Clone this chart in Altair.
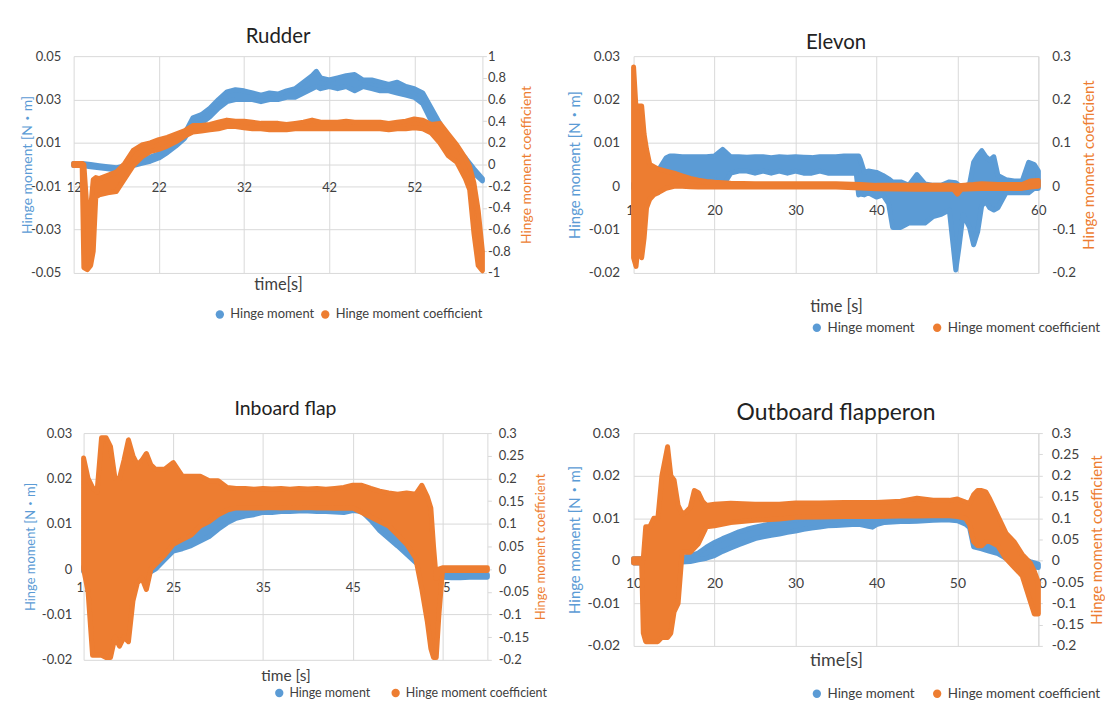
import altair as alt
import pandas as pd

BLUE = "#5B9BD5"
ORANGE = "#ED7D31"
GRID = "#D9D9D9"
LABEL = "#404040"
FONT = "Lato, 'Noto Sans CJK JP', sans-serif"
SERIES = ["Hinge moment", "Hinge moment coefficient"]

# ---------------- data: (time [s], band low, band high) ----------------
RUDDER_HM = [
    (12, -0.0005, 0.0005), (13, -0.0005, 0.0005), (14, -0.001, 0.0), (15, -0.0015, -0.0005),
    (16, -0.002, -0.001), (17, -0.0025, -0.0015), (18, -0.002, -0.0005), (19, -0.0005, 0.001),
    (20, 0.0005, 0.002), (21, 0.0015, 0.0035), (22, 0.003, 0.005), (23, 0.0055, 0.0075),
    (24, 0.0085, 0.0105), (25, 0.012, 0.014), (26, 0.018, 0.0215), (27, 0.019, 0.023),
    (28, 0.022, 0.026), (29, 0.026, 0.030), (30, 0.029, 0.0335), (31, 0.030, 0.0345),
    (32, 0.030, 0.034), (33, 0.030, 0.033), (34, 0.029, 0.032), (35, 0.030, 0.033),
    (36, 0.030, 0.0325), (37, 0.031, 0.034), (38, 0.031, 0.035), (39, 0.033, 0.038),
    (40, 0.035, 0.041), (40.5, 0.036, 0.043), (41, 0.035, 0.040), (42, 0.036, 0.039),
    (43, 0.035, 0.040), (44, 0.036, 0.041), (45, 0.034, 0.0415), (46, 0.036, 0.039),
    (47, 0.035, 0.039), (48, 0.034, 0.038), (49, 0.034, 0.037), (50, 0.033, 0.038),
    (51, 0.032, 0.036), (52, 0.031, 0.035), (53, 0.028, 0.033), (54, 0.020, 0.026),
    (55, 0.015, 0.019), (56, 0.009, 0.011), (57, 0.005, 0.007), (58, 0.001, 0.003),
    (59, -0.004, -0.002), (60, -0.0075, -0.0065),
]
RUDDER_CF = [
    (12, -0.01, 0.01), (13.0, -0.01, 0.01), (13.2, -0.95, 0.0), (13.6, -0.97, -0.45),
    (14.0, -0.93, -0.4), (14.3, -0.8, -0.14), (14.6, -0.3, -0.12), (15, -0.28, -0.13),
    (16, -0.26, -0.1), (17, -0.25, -0.07), (18, -0.13, 0.01), (19, -0.01, 0.13),
    (20, 0.07, 0.18), (21, 0.12, 0.2), (22, 0.14, 0.23), (23, 0.17, 0.25),
    (24, 0.21, 0.28), (25, 0.26, 0.31), (26, 0.30, 0.36), (27, 0.31, 0.36),
    (28, 0.32, 0.37), (29, 0.33, 0.39), (30, 0.35, 0.41), (31, 0.35, 0.40),
    (32, 0.34, 0.40), (33, 0.33, 0.39), (34, 0.33, 0.38), (35, 0.32, 0.38),
    (36, 0.32, 0.38), (37, 0.32, 0.37), (38, 0.33, 0.38), (39, 0.33, 0.39),
    (40, 0.33, 0.41), (41, 0.33, 0.39), (42, 0.33, 0.39), (43, 0.33, 0.39),
    (44, 0.33, 0.40), (45, 0.33, 0.39), (46, 0.33, 0.39), (47, 0.33, 0.39),
    (48, 0.33, 0.39), (49, 0.32, 0.38), (50, 0.33, 0.39), (51, 0.33, 0.40),
    (52, 0.34, 0.42), (53, 0.33, 0.41), (54, 0.29, 0.37), (55, 0.2, 0.38),
    (56, 0.08, 0.28), (57, 0.02, 0.18), (58, -0.13, 0.06), (58.5, -0.23, -0.02),
    (59, -0.63, -0.17), (59.5, -0.93, -0.42), (60, -0.98, -0.8),
]

ELEVON_HM = [
    (10, -0.0005, 0.0005), (11, -0.0005, 0.0005), (12, -0.0005, 0.0005), (12.5, -0.0003, 0.0008),
    (13, -0.0015, 0.0035), (14, 0.0005, 0.0065), (14.5, 0.0015, 0.007), (15, 0.002, 0.007),
    (16, 0.002, 0.0068), (17, 0.002, 0.0068), (18, 0.002, 0.0068), (19, 0.002, 0.0068),
    (20, 0.0015, 0.007), (21, 0.0, 0.0085), (22, 0.003, 0.0068), (23, 0.0035, 0.0068),
    (24, 0.0035, 0.0067), (25, 0.003, 0.0068), (26, 0.0035, 0.0068), (27, 0.003, 0.0066),
    (28, 0.0035, 0.0068), (29, 0.003, 0.0067), (30, 0.0035, 0.0068), (31, 0.003, 0.0067),
    (32, 0.003, 0.0066), (33, 0.0035, 0.0068), (34, 0.003, 0.0068), (35, 0.003, 0.0068),
    (36, 0.003, 0.007), (37, 0.003, 0.007), (37.5, 0.003, 0.007), (37.8, -0.002, 0.007),
    (38, -0.0018, 0.0062), (38.5, -0.002, 0.0032), (39, -0.0015, 0.0035), (40, -0.0025, 0.0032),
    (40.8, -0.002, 0.0025), (41.5, -0.004, 0.0017), (42, -0.0095, 0.001), (43, -0.0095, 0.001),
    (44, -0.0085, 0.0002), (45, -0.0085, 0.0027), (46, -0.0085, 0.0005), (47, -0.007, 0.0002),
    (48, -0.0065, 0.0002), (49, -0.0055, 0.001), (49.8, -0.0193, 0.0008), (50.2, -0.014, 0.0002),
    (50.7, -0.0065, -0.0002), (51.5, -0.0095, 0.0005), (52, -0.0135, 0.0055), (52.5, -0.0105, 0.007),
    (53, -0.0045, 0.0082), (53.5, -0.0035, 0.0068), (54, -0.005, 0.006), (54.5, -0.0055, 0.0068),
    (55, -0.005, 0.0025), (56, -0.0015, 0.0015), (57, -0.0015, 0.0012), (58, -0.0015, 0.0012),
    (58.8, -0.0015, 0.0055), (59.5, -0.0005, 0.005), (60, -0.0005, 0.0035),
]
ELEVON_CF = [
    (10.0, -0.165, 0.275), (10.3, -0.185, 0.18), (10.6, -0.13, 0.185), (11.0, -0.165, 0.185),
    (11.3, -0.12, 0.12), (11.6, -0.05, 0.085), (12, -0.03, 0.05), (12.5, -0.02, 0.045),
    (13, -0.015, 0.04), (14, -0.005, 0.035), (15, 0.0, 0.03), (16, 0.0, 0.024),
    (17, -0.001, 0.018), (18, -0.002, 0.014), (19, -0.002, 0.011), (20, -0.002, 0.009),
    (22, -0.002, 0.007), (25, -0.002, 0.006), (30, -0.002, 0.006), (35, -0.002, 0.006),
    (38, -0.004, 0.004), (40, -0.006, 0.002), (45, -0.007, 0.002), (49.5, -0.007, 0.002),
    (50, -0.018, 0.001), (50.5, -0.007, 0.002), (52, -0.006, 0.004), (53, -0.005, 0.006),
    (55, -0.005, 0.004), (58, -0.005, 0.004), (59, -0.002, 0.012), (60, 0.0, 0.013),
]

INBOARD_HM = [
    (15, -0.0005, 0.0005), (16, -0.0005, 0.0005), (17, -0.0005, 0.0005), (18, -0.0005, 0.0005),
    (19, -0.0005, 0.0005), (20, -0.0005, 0.0005), (21, -0.0008, 0.0005), (21.8, -0.0018, 0.0005),
    (22.3, -0.0008, 0.0008), (23, 0.0, 0.0025), (24, 0.002, 0.0055), (25, 0.004, 0.0088),
    (26, 0.0045, 0.0078), (27, 0.0052, 0.0088), (28, 0.0062, 0.0098), (29, 0.0072, 0.011),
    (30, 0.0088, 0.0115), (31, 0.0102, 0.012), (32, 0.0112, 0.0128), (33, 0.0117, 0.013),
    (34, 0.012, 0.0132), (35, 0.0125, 0.0134), (36, 0.0125, 0.0135), (37, 0.0127, 0.0135),
    (38, 0.0127, 0.0136), (39, 0.0128, 0.0137), (40, 0.0128, 0.0138), (41, 0.0127, 0.0136),
    (42, 0.0127, 0.0135), (43, 0.0126, 0.0134), (44, 0.0125, 0.0134), (45, 0.0129, 0.0137),
    (46, 0.0127, 0.0137), (47, 0.0108, 0.0122), (48, 0.0085, 0.0100), (49, 0.0068, 0.0084),
    (50, 0.0051, 0.0066), (51, 0.0033, 0.0048), (52, 0.0015, 0.0031), (53, -0.0002, 0.0012),
    (54, -0.0009, 0.0002), (55, -0.0018, -0.0012), (56, -0.0019, -0.0013), (57, -0.0019, -0.0013),
    (58, -0.0018, -0.0012), (59, -0.0018, -0.0012), (60, -0.0018, -0.0012),
]
INBOARD_CF = [
    (15.0, 0.0, 0.245), (15.5, -0.05, 0.2), (16, -0.19, 0.18), (16.5, -0.19, 0.17),
    (17, -0.19, 0.29), (17.5, -0.195, 0.29), (18, -0.195, 0.27), (18.5, -0.15, 0.2),
    (19, -0.17, 0.2), (19.5, -0.15, 0.24), (20, -0.16, 0.285), (20.5, -0.07, 0.25),
    (21, -0.03, 0.23), (21.5, -0.02, 0.24), (22, -0.045, 0.255), (22.5, 0.0, 0.23),
    (23, 0.01, 0.22), (24, 0.03, 0.22), (25, 0.055, 0.235), (26, 0.065, 0.205),
    (27, 0.075, 0.205), (28, 0.095, 0.205), (29, 0.105, 0.195), (30, 0.12, 0.195),
    (31, 0.13, 0.18), (32, 0.135, 0.178), (33, 0.135, 0.178), (34, 0.135, 0.176),
    (35, 0.135, 0.178), (36, 0.136, 0.177), (37, 0.135, 0.178), (38, 0.136, 0.176),
    (39, 0.135, 0.178), (40, 0.136, 0.177), (41, 0.135, 0.178), (42, 0.135, 0.176),
    (43, 0.134, 0.178), (44, 0.134, 0.18), (45, 0.135, 0.185), (46, 0.125, 0.185),
    (47, 0.115, 0.178), (48, 0.105, 0.172), (49, 0.095, 0.168), (50, 0.075, 0.165),
    (51, 0.055, 0.168), (52, 0.025, 0.165), (52.7, -0.045, 0.185), (53.3, -0.115, 0.16),
    (53.7, -0.175, 0.135), (54, -0.195, 0.05), (54.3, -0.195, -0.02), (54.6, -0.1, 0.0),
    (55, -0.003, 0.003), (57, -0.003, 0.003), (60, -0.003, 0.003),
]

OUTBOARD_HM = [
    (10, -0.0005, 0.0005), (11, -0.0005, 0.0005), (12, -0.0008, 0.0003), (13, -0.001, 0.0),
    (14, -0.0008, 0.0003), (15, -0.0005, 0.0005), (16, -0.0003, 0.0008), (17, -0.0002, 0.0012),
    (18, 0.0002, 0.0018), (19, 0.0006, 0.0032), (20, 0.0012, 0.0043), (21, 0.0022, 0.0052),
    (22, 0.003, 0.006), (23, 0.0038, 0.0068), (24, 0.0045, 0.0074), (25, 0.0052, 0.0079),
    (26, 0.0056, 0.0083), (27, 0.006, 0.0087), (28, 0.0063, 0.0089), (29, 0.0067, 0.0093),
    (30, 0.007, 0.0096), (31, 0.0074, 0.0099), (32, 0.0077, 0.0101), (33, 0.0079, 0.0102),
    (34, 0.0082, 0.0102), (35, 0.0083, 0.0101), (36, 0.0084, 0.0101), (37, 0.0085, 0.0100),
    (38, 0.0085, 0.0099), (39, 0.0081, 0.0095), (39.5, 0.0079, 0.0091), (40, 0.0085, 0.0098),
    (41, 0.009, 0.0103), (42, 0.0091, 0.0104), (43, 0.0092, 0.0105), (44, 0.0092, 0.0105),
    (45, 0.0093, 0.0106), (46, 0.0094, 0.0106), (47, 0.0095, 0.0107), (48, 0.0096, 0.0107),
    (49, 0.0096, 0.0107), (50, 0.0094, 0.0105), (51, 0.0086, 0.01), (51.5, 0.0078, 0.0092),
    (52, 0.0033, 0.005), (53, 0.0028, 0.0042), (54, 0.0022, 0.0036), (55, 0.0017, 0.0032),
    (56, 0.0006, 0.0024), (57, -0.0002, 0.0014), (58, -0.0008, 0.0005), (59, -0.0014, -0.0002),
    (60, -0.0016, -0.0008),
]
OUTBOARD_CF = [
    (10, -0.005, 0.005), (11, -0.005, 0.005), (11.2, -0.17, 0.005), (11.5, -0.19, 0.08),
    (12.0, -0.19, 0.08), (12.5, -0.19, 0.1), (13.0, -0.19, 0.1), (13.5, -0.18, 0.2),
    (14.2, -0.18, 0.268), (14.6, -0.17, 0.2), (15.0, -0.12, 0.19), (15.5, -0.1, 0.13),
    (16, 0.02, 0.11), (16.5, 0.02, 0.115), (17, 0.02, 0.125), (17.5, 0.03, 0.165),
    (18, 0.04, 0.16), (18.5, 0.06, 0.14), (19, 0.08, 0.13), (20, 0.082, 0.133),
    (22, 0.09, 0.135), (25, 0.095, 0.133), (28, 0.098, 0.133), (30, 0.102, 0.136),
    (33, 0.103, 0.136), (36, 0.104, 0.137), (40, 0.104, 0.137), (43, 0.105, 0.14),
    (45, 0.105, 0.147), (47, 0.106, 0.142), (49, 0.106, 0.142), (50, 0.104, 0.145),
    (51, 0.1, 0.138), (51.5, 0.085, 0.135), (52, 0.045, 0.155), (52.5, 0.035, 0.165),
    (53, 0.035, 0.165), (53.5, 0.045, 0.162), (54, 0.045, 0.145), (55, 0.035, 0.105),
    (56, 0.005, 0.065), (57, -0.015, 0.045), (58, -0.035, 0.015), (59, -0.095, -0.005),
    (59.5, -0.125, -0.025), (60, -0.125, -0.05),
]

# ---------------- axis ticks ----------------
RUDDER_X_TICKS = [12, 22, 32, 42, 52]
RUDDER_LEFT_TICKS = [-0.05, -0.03, -0.01, 0.01, 0.03, 0.05]
RUDDER_RIGHT_TICKS = [-1, -0.8, -0.6, -0.4, -0.2, 0, 0.2, 0.4, 0.6, 0.8, 1]
ELEVON_X_TICKS = [10, 20, 30, 40, 50, 60]
ELEVON_LEFT_TICKS = [-0.02, -0.01, 0, 0.01, 0.02, 0.03]
ELEVON_RIGHT_TICKS = [-0.2, -0.1, 0, 0.1, 0.2, 0.3]
INBOARD_X_TICKS = [15, 25, 35, 45, 55]
INBOARD_LEFT_TICKS = [-0.02, -0.01, 0, 0.01, 0.02, 0.03]
INBOARD_RIGHT_TICKS = [-0.2, -0.15, -0.1, -0.05, 0, 0.05, 0.1, 0.15, 0.2, 0.25, 0.3]
OUTBOARD_X_TICKS = [10, 20, 30, 40, 50, 60]
OUTBOARD_LEFT_TICKS = [-0.02, -0.01, 0, 0.01, 0.02, 0.03]
OUTBOARD_RIGHT_TICKS = [-0.2, -0.15, -0.1, -0.05, 0, 0.05, 0.1, 0.15, 0.2, 0.25, 0.3]

MINUS = "datum.value < 0 ? '-' + format(-datum.value, '~g') : format(datum.value, '~g')"


def make_panel(title, hm_rows, cf_rows, x_dom, x_ticks, l_dom, l_ticks, r_dom, r_ticks,
               x_title, lay):
    w, h = lay["w"], lay["h"]
    zero = h * (0 - l_dom[0]) / (l_dom[1] - l_dom[0])
    hm = pd.DataFrame(hm_rows, columns=["t", "lo", "hi"])
    hm["series"] = SERIES[0]
    cf = pd.DataFrame(cf_rows, columns=["t", "lo", "hi"])
    cf["series"] = SERIES[1]

    xs = alt.Scale(domain=x_dom, nice=False, zero=False)
    x_axis = alt.Axis(
        values=x_ticks, orient="bottom", offset=-zero, domain=True, domainColor=GRID,
        ticks=False, tickSize=0, grid=True, gridColor=GRID,
        labelPadding=lay["xlp"], labelBaseline="middle", labelFlush=False, labelOverlap=False,
        labelFont=FONT, labelFontSize=lay["fs"], labelColor=LABEL,
        title=x_title, titleFont=FONT, titleFontSize=lay["xtfs"], titleFontWeight="normal",
        titleColor=LABEL, titleX=w / 2, titleY=zero + lay["xty"], titleAlign="center",
        titleBaseline="middle",
    )
    l_axis = alt.Axis(
        orient="left", values=l_ticks, domain=False, ticks=False, tickSize=0, grid=True,
        gridColor=GRID, labelPadding=lay["llp"], labelExpr=MINUS, labelOverlap=False,
        labelFlush=False, labelFont=FONT, labelFontSize=lay["fs"], labelColor=LABEL,
        title="Hinge moment [N・m]", titleFont=FONT, titleFontSize=lay["ytfs"],
        titleFontWeight="normal", titleColor=BLUE, titleX=lay["ltx"], titleY=h / 2,
        titleAngle=270, titleAlign="center", titleBaseline="middle",
    )
    r_axis = alt.Axis(
        orient="right", values=r_ticks, domain=True, domainColor=GRID,
        ticks=lay["rticks"], tickColor=GRID, tickSize=4 if lay["rticks"] else 0, grid=False,
        labelPadding=lay["rlp"], labelExpr=MINUS, labelOverlap=False, labelFlush=False,
        labelFont=FONT, labelFontSize=lay["fs"], labelColor=LABEL,
        title="Hinge moment coefficient", titleFont=FONT, titleFontSize=lay["ytfs"],
        titleFontWeight="normal", titleColor=ORANGE, titleX=lay["rtx"], titleY=h / 2,
        titleAngle=270, titleAlign="center", titleBaseline="middle",
    )
    cs = alt.Scale(domain=SERIES, range=[BLUE, ORANGE])
    legend = alt.Legend(
        title=None, orient="none", legendX=lay["lgx"], legendY=lay["lgy"],
        direction="horizontal", symbolType="circle", symbolSize=70, symbolStrokeWidth=0,
        symbolOpacity=1, labelFont=FONT, labelFontSize=lay["lgfs"], labelColor=LABEL,
        labelOffset=4, columnPadding=lay["lgcp"], padding=0,
    )
    mark = dict(opacity=1, strokeWidth=5, strokeJoin="round", interpolate="linear")

    def series_layer(df, ydom, yaxis):
        return alt.Chart(df).mark_area(**mark).encode(
            x=alt.X("t:Q", scale=xs, axis=x_axis),
            y=alt.Y("lo:Q", scale=alt.Scale(domain=ydom, nice=False, zero=False), axis=yaxis),
            y2=alt.Y2("hi"),
            color=alt.Color("series:N", scale=cs, legend=legend),
            stroke=alt.Stroke("series:N", scale=cs, legend=None),
        )

    return alt.layer(
        series_layer(hm, l_dom, l_axis), series_layer(cf, r_dom, r_axis)
    ).resolve_scale(y="independent").properties(
        width=w, height=h,
        title=alt.TitleParams(
            text=title, font=FONT, fontSize=lay["tfs"], fontWeight="normal", color="#222222",
            anchor="middle", frame="group", offset=lay["toff"],
        ),
    )


def spacer(w):
    return alt.Chart(pd.DataFrame({"v": [0]})).mark_point(opacity=0).encode(
        x=alt.X("v:Q", axis=None), y=alt.Y("v:Q", axis=None)
    ).properties(width=w, height=1)


rudder = make_panel(
    "Rudder", RUDDER_HM, RUDDER_CF, [12, 60], RUDDER_X_TICKS, [-0.05, 0.05], RUDDER_LEFT_TICKS,
    [-1, 1], RUDDER_RIGHT_TICKS, "time[s]",
    dict(w=411, h=218, fs=13, xlp=23, xtfs=16.5, xty=12, llp=13, ytfs=14, ltx=-46.4,
         rticks=True, rlp=1, rtx=44, lgx=140.5, lgy=253, lgfs=13, lgcp=4, tfs=20.5, toff=3),
)
elevon = make_panel(
    "Elevon", ELEVON_HM, ELEVON_CF, [10, 60], ELEVON_X_TICKS, [-0.02, 0.03], ELEVON_LEFT_TICKS,
    [-0.2, 0.3], ELEVON_RIGHT_TICKS, "time [s]",
    dict(w=407, h=218, fs=13.5, xlp=24, xtfs=16.5, xty=34, llp=14, ytfs=15, ltx=-59,
         rticks=False, rlp=13.5, rtx=50.5, lgx=177.5, lgy=266, lgfs=13.5, lgcp=15, tfs=20.5,
         toff=-4),
)
inboard = make_panel(
    "Inboard flap", INBOARD_HM, INBOARD_CF, [15, 60], INBOARD_X_TICKS, [-0.02, 0.03],
    INBOARD_LEFT_TICKS, [-0.2, 0.3], INBOARD_RIGHT_TICKS, "time [s]",
    dict(w=406, h=228, fs=13, xlp=18, xtfs=15.5, xty=16, llp=12, ytfs=13, ltx=-53,
         rticks=True, rlp=7, rtx=53, lgx=190.5, lgy=255, lgfs=12.5, lgcp=19, tfs=19.5, toff=8),
)
outboard = make_panel(
    "Outboard flapperon", OUTBOARD_HM, OUTBOARD_CF, [10, 60], OUTBOARD_X_TICKS, [-0.02, 0.03],
    OUTBOARD_LEFT_TICKS, [-0.2, 0.3], OUTBOARD_RIGHT_TICKS, "time[s]",
    dict(w=407, h=214, fs=14, xlp=23, xtfs=18, xty=15, llp=14, ytfs=15, ltx=-59,
         rticks=True, rlp=9, rtx=58, lgx=177.5, lgy=255, lgfs=13.5, lgcp=15, tfs=23, toff=1),
)

row1 = alt.hconcat(rudder, elevon, spacing=152, bounds="flush").resolve_scale(
    color="independent", stroke="independent")
row2 = alt.hconcat(spacer(1), inboard, spacer(129), outboard, spacing=9,
                   bounds="flush").resolve_scale(color="independent", stroke="independent")
chart = alt.vconcat(row1, row2, spacing=63).resolve_scale(
    color="independent", stroke="independent"
).properties(
    padding={"left": 12, "top": 16.5, "right": 0, "bottom": 0}, background="white"
).configure_view(stroke="transparent")

chart.save("out.html", embed_options={"renderer": "svg", "actions": False})
